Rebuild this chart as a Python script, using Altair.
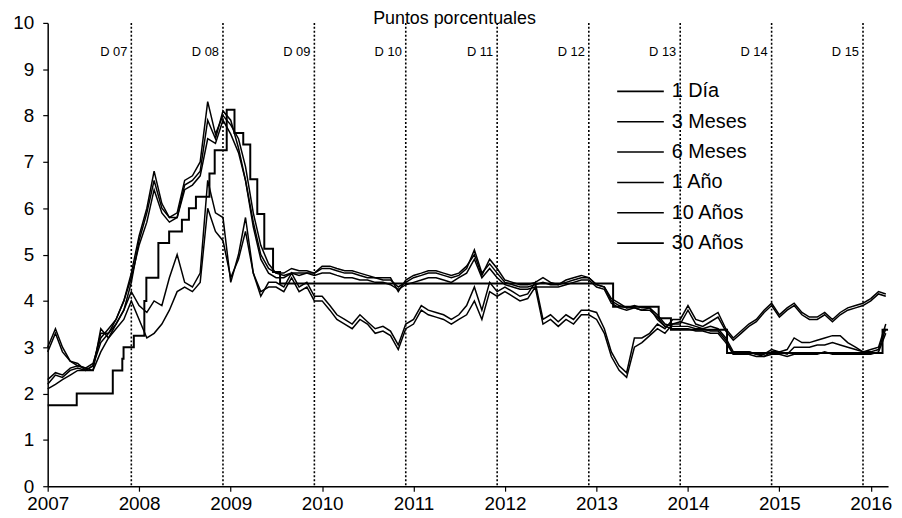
import altair as alt
import pandas as pd

FONT = "Liberation Sans"

# ---- Monthly series (spreads, percentage points), Jan-2007 .. Mar-2016 ----
tres_meses = (
    [2.1, 2.2, 2.3, 2.4, 2.5, 2.5, 2.5, 2.9, 3.2, 3.5, 3.8, 4.4]
    + [5.3, 5.9, 6.6, 6.0, 5.8, 5.8, 6.5, 6.6, 6.8, 7.9, 7.5, 8.1]
    + [7.9, 7.3, 6.6, 5.7, 5.0, 4.7, 4.6, 4.55, 4.6, 4.6, 4.6, 4.55]
    + [4.6, 4.6, 4.55, 4.5, 4.5, 4.45, 4.45, 4.4, 4.4, 4.35, 4.25, 4.35]
    + [4.4, 4.45, 4.5, 4.5, 4.45, 4.4, 4.5, 4.6, 4.9, 4.5, 4.7, 4.5]
    + [4.35, 4.3, 4.25, 4.25, 4.3, 4.3, 4.3, 4.3, 4.35, 4.4, 4.45, 4.45]
    + [4.3, 4.25, 3.95, 3.85, 3.8, 3.85, 3.8, 3.8, 3.65, 3.45, 3.4, 3.4]
    + [3.4, 3.35, 3.35, 3.3, 3.3, 3.1, 2.85, 2.85, 2.85, 2.8, 2.8, 2.85]
    + [2.85, 2.8, 2.85, 2.85, 2.85, 2.85, 2.9, 2.85, 2.85, 2.85, 2.85, 2.85]
    + [2.85, 2.9, 3.3]
)
seis_meses = (
    [2.2, 2.4, 2.35, 2.5, 2.55, 2.5, 2.6, 3.1, 3.3, 3.6, 4.0, 4.6]
    + [5.4, 6.0, 6.8, 6.1, 5.8, 5.9, 6.6, 6.7, 7.0, 8.3, 7.6, 8.0]
    + [7.8, 7.5, 6.9, 5.9, 5.2, 4.8, 4.6, 4.6, 4.7, 4.65, 4.65, 4.6]
    + [4.7, 4.7, 4.65, 4.6, 4.6, 4.55, 4.5, 4.5, 4.45, 4.45, 4.3, 4.4]
    + [4.5, 4.55, 4.6, 4.6, 4.55, 4.5, 4.55, 4.7, 5.1, 4.6, 4.8, 4.6]
    + [4.4, 4.35, 4.3, 4.3, 4.35, 4.4, 4.35, 4.35, 4.4, 4.45, 4.5, 4.5]
    + [4.35, 4.3, 4.0, 3.9, 3.85, 3.85, 3.8, 3.85, 3.7, 3.5, 3.45, 3.45]
    + [3.45, 3.4, 3.4, 3.35, 3.35, 3.15, 2.85, 2.85, 2.9, 2.85, 2.8, 2.9]
    + [2.9, 2.85, 3.0, 3.0, 3.0, 3.05, 3.05, 3.1, 3.05, 3.0, 2.95, 2.9]
    + [2.9, 2.95, 3.4]
)
un_anio = (
    [2.3, 2.45, 2.4, 2.55, 2.6, 2.55, 2.65, 3.2, 3.4, 3.6, 4.0, 4.5]
    + [5.2, 5.7, 6.4, 5.9, 5.7, 5.8, 6.4, 6.5, 6.7, 7.5, 7.4, 7.9]
    + [7.6, 7.2, 6.6, 5.6, 4.9, 4.6, 4.5, 4.5, 4.6, 4.55, 4.6, 4.6]
    + [4.75, 4.75, 4.7, 4.65, 4.65, 4.6, 4.55, 4.5, 4.5, 4.5, 4.2, 4.45]
    + [4.55, 4.6, 4.65, 4.65, 4.6, 4.55, 4.6, 4.75, 5.0, 4.55, 4.9, 4.7]
    + [4.45, 4.4, 4.35, 4.35, 4.4, 4.5, 4.4, 4.35, 4.45, 4.5, 4.55, 4.5]
    + [4.35, 4.3, 4.05, 3.95, 3.85, 3.9, 3.85, 3.85, 3.6, 3.45, 3.5, 3.55]
    + [3.5, 3.45, 3.4, 3.45, 3.4, 3.2, 2.9, 2.9, 2.9, 2.85, 2.85, 2.95]
    + [2.9, 2.95, 3.2, 3.1, 3.1, 3.15, 3.2, 3.25, 3.25, 3.1, 3.0, 2.9]
    + [2.95, 3.0, 3.5]
)
diez_anios = (
    [2.9, 3.3, 2.9, 2.7, 2.65, 2.5, 2.6, 3.3, 3.3, 3.5, 3.8, 4.2]
    + [3.9, 3.75, 4.0, 3.9, 4.5, 5.0, 4.4, 4.3, 4.6, 6.6, 5.9, 5.8]
    + [4.4, 5.0, 5.8, 4.6, 4.1, 4.4, 4.4, 4.3, 4.6, 4.3, 4.4, 4.1]
    + [4.1, 3.9, 3.7, 3.6, 3.5, 3.7, 3.55, 3.4, 3.45, 3.35, 3.05, 3.5]
    + [3.6, 3.9, 3.8, 3.75, 3.7, 3.6, 3.7, 3.9, 4.3, 3.8, 4.4, 4.2]
    + [4.3, 4.2, 4.1, 4.15, 4.4, 3.6, 3.7, 3.55, 3.7, 3.6, 3.8, 3.8]
    + [3.75, 3.4, 2.9, 2.6, 2.45, 3.2, 3.2, 3.3, 3.5, 3.4, 3.6, 3.6]
    + [3.9, 3.6, 3.55, 3.65, 3.75, 3.4, 3.2, 3.35, 3.5, 3.6, 3.8, 3.95]
    + [3.7, 3.85, 3.95, 3.75, 3.65, 3.65, 3.75, 3.6, 3.75, 3.85, 3.9, 3.95]
    + [4.05, 4.2, 4.15]
)
treinta_anios = (
    [3.0, 3.4, 3.0, 2.7, 2.6, 2.55, 2.5, 3.4, 3.2, 3.4, 3.6, 4.0]
    + [3.6, 3.2, 3.3, 3.5, 3.8, 4.2, 4.3, 4.2, 4.4, 6.0, 5.5, 5.3]
    + [4.5, 4.9, 5.5, 4.6, 4.2, 4.3, 4.3, 4.2, 4.5, 4.2, 4.3, 4.0]
    + [4.0, 3.8, 3.6, 3.5, 3.4, 3.6, 3.5, 3.3, 3.35, 3.25, 2.95, 3.4]
    + [3.5, 3.8, 3.7, 3.65, 3.6, 3.5, 3.6, 3.7, 4.0, 3.6, 4.2, 4.1]
    + [4.2, 4.1, 4.0, 4.05, 4.3, 3.5, 3.6, 3.45, 3.6, 3.5, 3.7, 3.7]
    + [3.6, 3.3, 2.8, 2.5, 2.35, 3.0, 3.1, 3.25, 3.4, 3.3, 3.5, 3.5]
    + [3.8, 3.5, 3.45, 3.55, 3.65, 3.35, 3.15, 3.3, 3.45, 3.55, 3.75, 3.9]
    + [3.65, 3.8, 3.9, 3.7, 3.6, 3.6, 3.7, 3.55, 3.7, 3.8, 3.85, 3.9]
    + [4.0, 4.15, 4.1]
)

# ---- 1 Día: step series (change dates and levels) ----
dia_fechas = [
    "2007-01-01", "2007-04-27", "2007-09-18", "2007-10-26", "2007-10-31",
    "2007-12-11", "2008-01-22", "2008-01-30", "2008-03-18", "2008-04-30",
    "2008-06-20", "2008-07-18", "2008-08-15", "2008-10-08", "2008-10-29",
    "2008-12-16", "2009-01-16", "2009-02-20", "2009-03-20", "2009-04-17",
    "2009-05-15", "2009-06-19", "2009-07-17", "2013-03-08", "2013-09-06",
    "2013-10-25", "2014-06-06", "2016-02-17", "2016-03-10",
]
dia_valores = [
    1.75, 2.0, 2.5, 2.75, 3.0,
    3.25, 4.0, 4.5, 5.25, 5.5,
    5.75, 6.0, 6.25, 6.75, 7.25,
    8.125, 7.625, 7.375, 6.625, 5.875,
    5.125, 4.625, 4.375, 3.875, 3.625,
    3.375, 2.875, 3.375, 3.375,
]

# ---- December markers ----
dic_fechas = ["2007-12-01", "2008-12-01", "2009-12-01", "2010-12-01", "2011-12-01",
              "2012-12-01", "2013-12-01", "2014-12-01", "2015-12-01"]
dic_etiquetas = ["D 07", "D 08", "D 09", "D 10", "D 11", "D 12", "D 13", "D 14", "D 15"]

series_nombres = ["1 Día", "3 Meses", "6 Meses", "1 Año", "10 Años", "30 Años"]
anios = list(range(2007, 2017))

# ---- tables ----
meses = pd.date_range("2007-01-01", periods=len(tres_meses), freq="MS")
wide = pd.DataFrame({
    "date": meses,
    "3 Meses": tres_meses,
    "6 Meses": seis_meses,
    "1 Año": un_anio,
    "10 Años": diez_anios,
    "30 Años": treinta_anios,
})
df_lines = wide.melt(id_vars="date", var_name="serie", value_name="valor")
df_step = pd.DataFrame({"date": pd.to_datetime(dia_fechas), "valor": dia_valores})
df_dic = pd.DataFrame({"date": pd.to_datetime(dic_fechas), "label": dic_etiquetas})
df_leg = pd.DataFrame({"serie": series_nombres})
df_title = pd.DataFrame({"t": ["Puntos porcentuales"]})

x_scale = alt.Scale(domain=[alt.DateTime(year=2007, month=1, date=1),
                            alt.DateTime(year=2016, month=3, date=10)])
y_scale = alt.Scale(domain=[0, 10], nice=False, zero=True)

x_enc = alt.X("date:T", scale=x_scale, title=None,
              axis=alt.Axis(values=[alt.DateTime(year=a, month=1, date=1) for a in anios],
                            format="%Y", grid=False, labelFontSize=19, labelFont=FONT,
                            labelColor="black", tickColor="black", domainColor="black",
                            tickSize=5, domainWidth=1.5, tickWidth=1.2, labelPadding=3,
                            labelFlush=False, labelOverlap=False))
y_enc = alt.Y("valor:Q", scale=y_scale, title=None,
              axis=alt.Axis(values=list(range(0, 11)), grid=False, labelFontSize=19,
                            labelFont=FONT, labelColor="black", tickColor="black",
                            domainColor="black", tickSize=5, domainWidth=1.5,
                            tickWidth=1.2, labelPadding=9))

lines = alt.Chart(df_lines).mark_line(color="black", strokeWidth=1.5).encode(
    x=x_enc, y=y_enc, detail="serie:N")

step = alt.Chart(df_step).mark_line(color="black", strokeWidth=2,
                                    interpolate="step-after").encode(
    x=alt.X("date:T", scale=x_scale),
    y=alt.Y("valor:Q", scale=y_scale))

rules = alt.Chart(df_dic).mark_rule(color="black", strokeWidth=1.6,
                                    strokeDash=[2, 2]).encode(
    x=alt.X("date:T", scale=x_scale))

dlabels = alt.Chart(df_dic).mark_text(align="right", baseline="middle", dx=-4,
                                      fontSize=13, font=FONT, color="black").encode(
    x=alt.X("date:T", scale=x_scale), y=alt.value(29), text="label:N")

title_txt = alt.Chart(df_title).mark_text(align="center", baseline="alphabetic",
                                          fontSize=18, font=FONT, color="black").encode(
    x=alt.value(410), y=alt.value(1), text="t:N")

main = alt.layer(lines, step, rules, dlabels, title_txt)

leg_y = alt.Y("serie:N", sort=series_nombres, axis=None,
              scale=alt.Scale(type="point", range=[69, 222], padding=0))
leg_rule = alt.Chart(df_leg).mark_rule(color="black", strokeWidth=1.6).encode(
    y=leg_y, x=alt.value(574), x2=alt.value(621))
leg_text = alt.Chart(df_leg).mark_text(align="left", baseline="middle", fontSize=20,
                                       font=FONT, color="black").encode(
    y=leg_y, x=alt.value(629), text="serie:N")
legend = alt.layer(leg_rule, leg_text)

chart = alt.layer(main, legend).resolve_scale(y="independent").properties(
    width=847, height=467,
    autosize=alt.AutoSizeParams(type="none"),
    padding={"left": 40, "top": 13, "right": 6, "bottom": 29},
    background="white",
).configure_view(stroke=None)

chart.save("out.html", embed_options={"renderer": "svg", "actions": False})
